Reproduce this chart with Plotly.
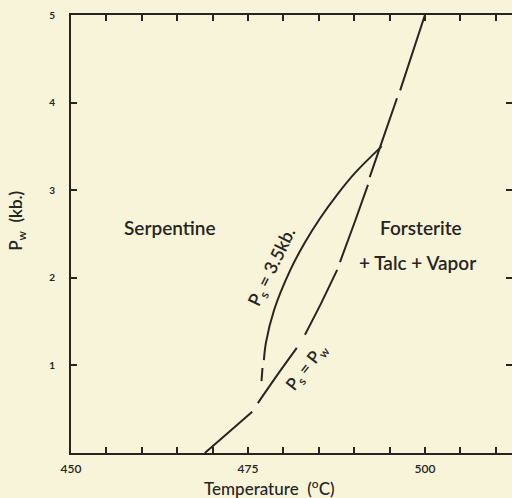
import plotly.graph_objects as go

# Ps = Pw curve (temperature degC, pressure kb); None marks the breaks in the dashed line
pw_temp = [468.9, 472.2, 475.6, None, 476.4, 479.4, 481.9, None, 483.05, 485.4, 487.6, None,
           488.0, 490.1, 491.95, None, 492.2, 493.7, 496.05, None, 496.5, 500.0]
pw_pres = [0.0, 0.23, 0.47, None, 0.57, 0.92, 1.20, None, 1.35, 1.72, 2.09, None,
           2.18, 2.64, 3.06, None, 3.15, 3.50, 4.05, None, 4.14, 5.0]

# Ps = 3.5 kb curve
ps_temp = [493.88, 490.16, 487.61, 485.19, 483.02, 480.99, 478.68, 477.54, 477.25, None, 477.05, 476.91]
ps_pres = [3.50, 3.20, 2.95, 2.68, 2.40, 2.09, 1.63, 1.26, 1.06, None, 0.97, 0.82]

x_ticks = [450, 455, 460, 465, 470, 475, 480, 485, 490, 495, 500, 505, 510]
x_labels = ["450", "", "", "", "", "475", "", "", "", "", "500", "", ""]
y_ticks = [1, 2, 3, 4, 5]
y_labels = ["1", "2", "3", "4", "5"]

ink = "#26251f"
paper = "#f7f4da"
font = "Lato"

fig = go.Figure()
fig.add_trace(go.Scatter(x=pw_temp, y=pw_pres, mode="lines",
                         line=dict(color=ink, width=2, shape="spline", smoothing=0.6),
                         connectgaps=False, hoverinfo="skip", showlegend=False))
fig.add_trace(go.Scatter(x=ps_temp, y=ps_pres, mode="lines",
                         line=dict(color=ink, width=2, shape="spline", smoothing=1.0),
                         connectgaps=False, hoverinfo="skip", showlegend=False))
fig.add_trace(go.Scatter(x=[450], y=[0], yaxis="y2", mode="markers", opacity=0,
                         hoverinfo="skip", showlegend=False))

fig.update_layout(
    width=512, height=498,
    margin=dict(l=71, r=0, t=15, b=45),
    paper_bgcolor=paper, plot_bgcolor=paper,
    font=dict(family=font, color=ink),
    xaxis=dict(range=[450, 512.3], tickvals=x_ticks, ticktext=x_labels, ticks="inside",
               ticklen=6, tickwidth=1.5, tickcolor=ink, showline=True, linewidth=2,
               linecolor=ink, mirror="ticks", showgrid=False, zeroline=False,
               automargin=False,
               tickfont=dict(size=12, family=font, weight=600), ticklabelstandoff=4),
    yaxis=dict(range=[0, 5], tickvals=y_ticks, ticktext=y_labels, ticks="inside",
               ticklen=6, tickwidth=1.5, tickcolor=ink, showline=True, linewidth=2,
               linecolor=ink, showgrid=False, zeroline=False, automargin=False,
               tickfont=dict(size=10, family=font, weight=700), ticklabelstandoff=12),
    yaxis2=dict(range=[0, 5], overlaying="y", side="right", tickvals=[1, 2, 3, 4],
                ticks="inside", ticklen=6, tickwidth=1.5, tickcolor=ink, automargin=False,
                showticklabels=False, showline=False, showgrid=False, zeroline=False),
)

# axis titles
fig.add_annotation(xref="paper", yref="paper", x=0.45, y=0, yshift=-34, yanchor="middle",
                   text="Temperature  (<sup>o</sup>C)", showarrow=False,
                   font=dict(size=17, color=ink, weight=500))
fig.add_annotation(xref="paper", yref="paper", x=0, xshift=-54, y=0.53, xanchor="center",
                   text="P<sub>w</sub>  (kb.)", textangle=-90, showarrow=False,
                   font=dict(size=17, color=ink, weight=600))

annotations = [
    dict(x=464.0, y=2.57, text="Serpentine", font=dict(size=19, weight=600)),
    dict(x=499.4, y=2.57, text="Forsterite", font=dict(size=19, weight=600)),
    dict(x=499.0, y=2.18, text="+ Talc + Vapor", font=dict(size=19, weight=600)),
    dict(x=478.4, y=2.12, text="P<sub>s</sub> = 3.5kb.", font=dict(size=18, weight=600), textangle=-64),
    dict(x=483.4, y=0.98, text="P<sub>s</sub> = P<sub>w</sub>", font=dict(size=17, weight=600), textangle=-52),
]
for a in annotations:
    a["font"]["color"] = ink
    fig.add_annotation(xref="x", yref="y", showarrow=False, **a)

fig.write_html("out.html", config={"displayModeBar": False},
               post_script="document.body.style.margin='0';document.body.style.background='%s';" % paper)
